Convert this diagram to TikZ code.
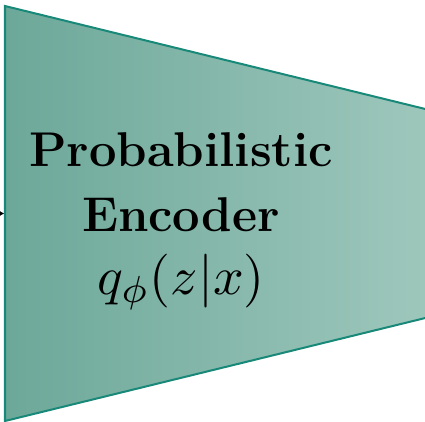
\documentclass[tikz,border=0pt]{standalone}
\usepackage{graphicx}
\usepackage{tikz}
\usetikzlibrary{arrows.meta, positioning, calc}
\definecolor{encTealL}{RGB}{108, 168, 153}
\definecolor{encTealR}{RGB}{160, 200, 189}
\definecolor{encEdge}{RGB}{24, 137, 120}

\begin{document}
\begin{tikzpicture}[x=1bp, y=-1bp,
    enclabel/.style={anchor=base, inner sep=0pt, font=\fontsize{49}{64}\selectfont\bfseries}]
    \clip (0,0) rectangle (425,422);
    % trapezoid of the encoder
    \coordinate (encNW) at (5,6);
    \coordinate (encNE) at (440,112.6);
    \coordinate (encSE) at (440,314.4);
    \coordinate (encSW) at (5,421);
    \coordinate (encW) at (4.5,213.5);
    \coordinate (input) at (-3,213.5);
    \draw[-{Latex[length=6bp, width=7bp]}, line width=1.2bp] (input) -- (encW);
    \draw[encEdge, line width=2bp, left color=encTealL, right color=encTealR]
        (encNW) -- (encNE) -- (encSE) -- (encSW) -- cycle;
    \node[enclabel] (title) at (181,166) {Probabilistic};
    \node[enclabel] (subtitle) at (181,231) {Encoder};
    \node[enclabel, font=\normalsize] (qdist) at (181,294) {\scalebox{5.4}{$q_\phi(z|x)$}};
\end{tikzpicture}
\end{document}
